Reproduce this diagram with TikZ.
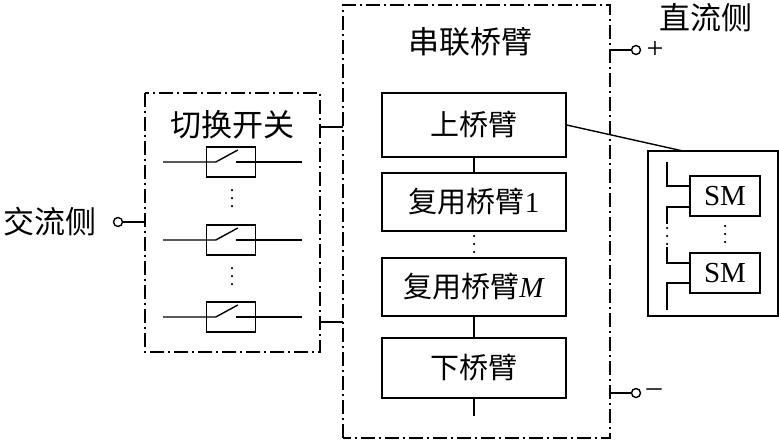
\documentclass[tikz,border=0pt]{standalone}
\usepackage{fontspec}
\setmainfont{Liberation Serif}
\newfontfamily\cjk{Noto Sans CJK SC}
\usetikzlibrary{positioning}
\begin{document}
\begin{tikzpicture}[x=1pt,y=-1pt]
  \newcommand{\zh}[1]{{\cjk #1}}
  \newcommand{\vdotsat}[2]{\draw [line width=2.5pt, line cap=round, dash pattern=on 0pt off 8pt] (#1,#2) -- ++(0,18);}
  \tikzstyle{block}     = [draw, line width=1.4pt, minimum width=184pt, font=\fontsize{29}{31}\selectfont]
  \tikzstyle{dashdot}   = [line width=1.4pt, dash pattern=on 14pt off 4pt on 2pt off 4pt]
  \tikzstyle{wire}      = [line width=1.4pt]
  \tikzstyle{label}     = [font=\fontsize{31}{33}\selectfont, inner sep=0pt]
  \tikzstyle{term}      = [circle, draw, line width=1.4pt, inner sep=0pt, minimum size=9pt, fill=white]
  \tikzstyle{smblock}   = [draw, line width=1.4pt, minimum width=70pt, minimum height=40pt, inner sep=0pt, font=\fontsize{29}{31}\selectfont]
  \tikzstyle{swbox}     = [draw, line width=1.4pt, minimum width=49pt, minimum height=30pt, inner sep=0pt]
  \useasboundingbox (0,0) rectangle (779,442);

  % series arm frame
  \draw [dashdot] (343,438) -- (343,5) -- (610,5) -- (610,438) -- (343,438);
  \node [label] (armtitle) at (470,42) {\zh{串联桥臂}};
  \node [block, minimum height=64pt] (upper)  at (474,125) {\zh{上桥臂}};
  \node [block, minimum height=58pt] (reuse1) at (474,202) {\zh{复用桥臂}1};
  \node [block, minimum height=58pt] (reusem) at (474,287) {\zh{复用桥臂}\textit{M}};
  \node [block, minimum height=60pt] (lower)  at (474,368) {\zh{下桥臂}};
  \coordinate (armend) at (474,416);
  \draw [wire] (upper) -- (reuse1);
  \draw [wire] (reusem) -- (lower);
  \draw [wire] (lower) -- (armend);
  \vdotsat{474}{236}

  % switch frame
  \draw [dashdot] (145,93) rectangle (320,352);
  \node [label] (swtitle) at (232,125) {\zh{切换开关}};
  \foreach \y/\n in {162/a,240/b,317/c} {
    \node [swbox] (sw\n) at (231,\y) {};
    \draw [wire] (163,\y) -- (sw\n.west) -- ++(10,0) -- ++(22,-12);
    \draw [wire] (236,\y) -- (302,\y);
  }
  \vdotsat{232}{190}
  \vdotsat{232}{268}
  \coordinate (swtop) at (320,127);
  \coordinate (swbot) at (320,322);
  \draw [wire] (swtop) -- (343,127);
  \draw [wire] (swbot) -- (343,322);

  % ac side
  \node [label] (ac) at (50,222) {\zh{交流侧}};
  \node [term] (acterm) at (118,222) {};
  \draw [wire] (acterm) -- (145,222);

  % dc side
  \node [label] (dc) at (706,18) {\zh{直流侧}};
  \node [term] (dcpos) at (636,50) {};
  \node [term] (dcneg) at (636,393) {};
  \draw [wire] (610,50) -- (dcpos);
  \draw [wire] (610,393) -- (dcneg);
  \node [font=\fontsize{30}{32}\selectfont, right=2pt of dcpos] (plus) {+};
  \node [font=\fontsize{30}{32}\selectfont, right=2pt of dcneg] (minus) {\textendash};

  % submodule detail
  \draw [wire] (648,151) rectangle (778,316);
  \node [smblock] (sma) at (725,196) {SM};
  \node [smblock] (smb) at (725,273) {SM};
  \draw [wire] (667,162) |- (sma.west |- 0,186);
  \draw [wire] (667,224) |- (sma.west |- 0,207);
  \draw [wire] (667,247) |- (smb.west |- 0,263);
  \draw [wire] (667,310) |- (smb.west |- 0,283);
  \vdotsat{667}{228}
  \vdotsat{725}{226}
  \draw [wire] (upper.east) -- (683,151);
\end{tikzpicture}
\end{document}
